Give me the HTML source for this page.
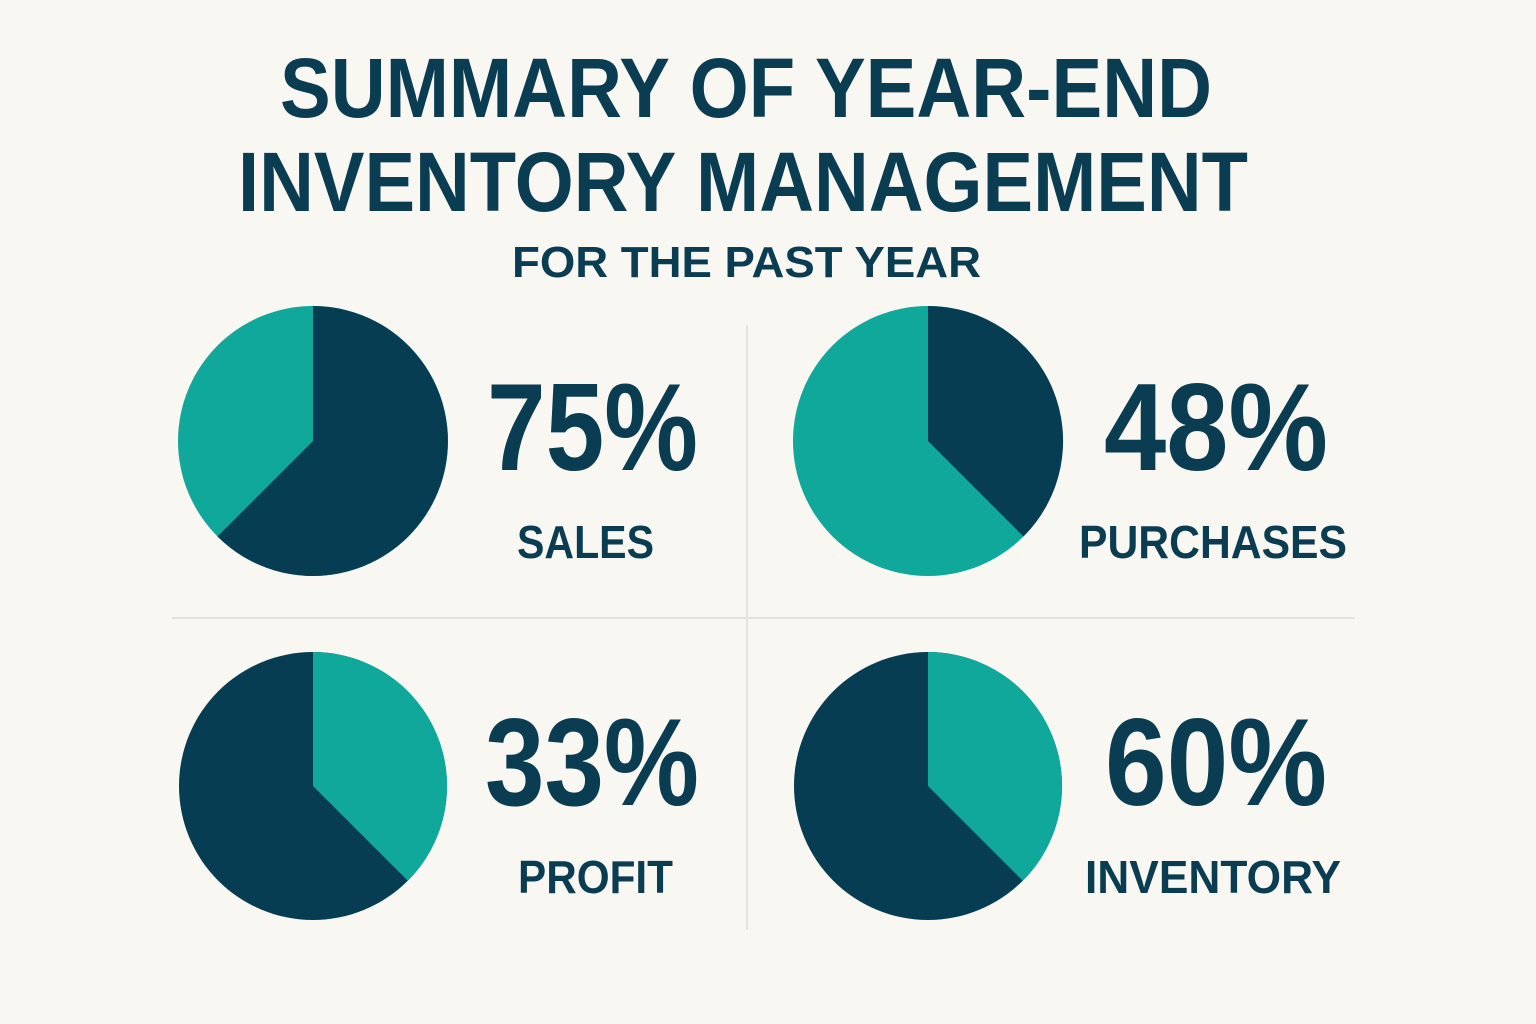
<!DOCTYPE html>
<html><head><meta charset="utf-8"><style>
html,body{margin:0;padding:0;background:#f8f7f2;}
svg{display:block}
text{font-family:"Liberation Sans",sans-serif;font-weight:bold;fill:#0a3d52;}
</style></head><body>
<svg width="1536" height="1024" viewBox="0 0 1536 1024">
<rect width="1536" height="1024" fill="#f8f7f2"/>
<text x="280" y="117" font-size="84" textLength="932" lengthAdjust="spacingAndGlyphs">SUMMARY OF YEAR-END</text>
<text x="238" y="211" font-size="84" textLength="1010" lengthAdjust="spacingAndGlyphs">INVENTORY MANAGEMENT</text>
<text x="512" y="277" font-size="44" textLength="469" lengthAdjust="spacingAndGlyphs">FOR THE PAST YEAR</text>
<line x1="747" y1="325" x2="747" y2="930" stroke="#e2e2de" stroke-width="2"/>
<line x1="172" y1="618" x2="1355" y2="618" stroke="#e2e2de" stroke-width="2"/>
<!-- pie 1 -->
<circle cx="313" cy="441" r="135" fill="#10a89b"/>
<path d="M313 441 L313 306 A135 135 0 1 1 217.5 536.5 Z" fill="#073d52"/>
<!-- pie 2 -->
<circle cx="928" cy="441" r="135" fill="#10a89b"/>
<path d="M928 441 L928 306 A135 135 0 0 1 1023.5 536.5 Z" fill="#073d52"/>
<!-- pie 3 -->
<circle cx="313" cy="786" r="134" fill="#073d52"/>
<path d="M313 786 L313 652 A134 134 0 0 1 407.8 880.8 Z" fill="#10a89b"/>
<!-- pie 4 -->
<circle cx="928" cy="786" r="134" fill="#073d52"/>
<path d="M928 786 L928 652 A134 134 0 0 1 1022.8 880.8 Z" fill="#10a89b"/>
<text x="487" y="470" font-size="124" textLength="211" lengthAdjust="spacingAndGlyphs">75%</text>
<text x="517" y="558" font-size="46" textLength="137" lengthAdjust="spacingAndGlyphs">SALES</text>
<text x="1104" y="470" font-size="124" textLength="224" lengthAdjust="spacingAndGlyphs">48%</text>
<text x="1079" y="558" font-size="46" textLength="268" lengthAdjust="spacingAndGlyphs">PURCHASES</text>
<text x="485" y="805" font-size="124" textLength="214" lengthAdjust="spacingAndGlyphs">33%</text>
<text x="518" y="893" font-size="46" textLength="155" lengthAdjust="spacingAndGlyphs">PROFIT</text>
<text x="1105" y="805" font-size="124" textLength="222" lengthAdjust="spacingAndGlyphs">60%</text>
<text x="1085" y="893" font-size="46" textLength="256" lengthAdjust="spacingAndGlyphs">INVENTORY</text>
</svg>
</body></html>
